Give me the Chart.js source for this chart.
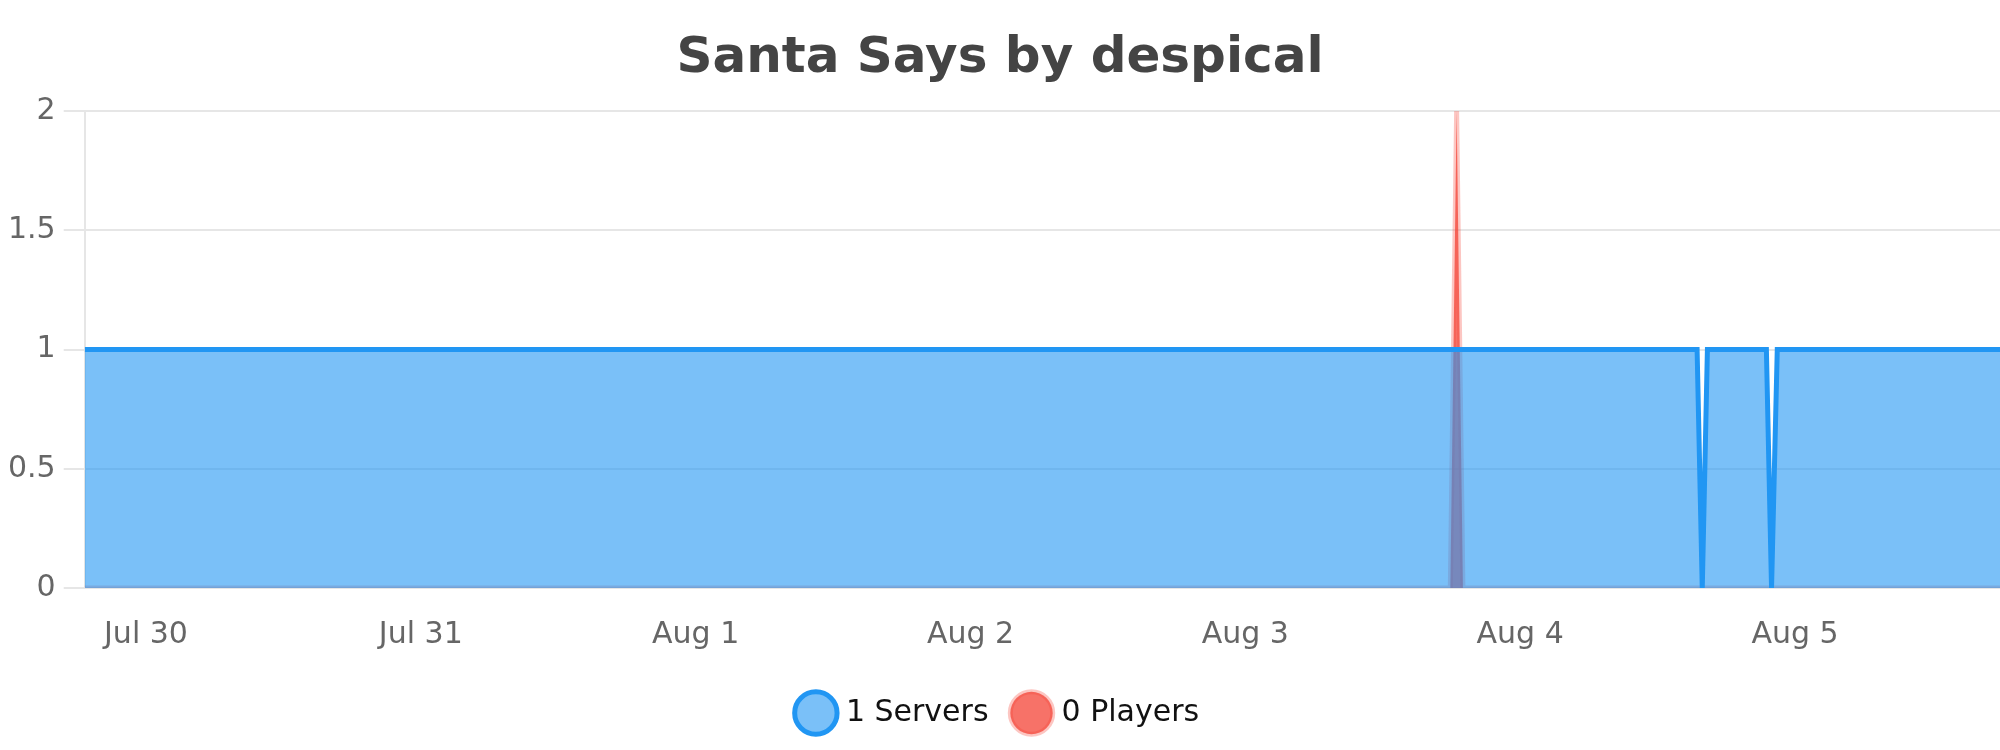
<!DOCTYPE html>
<html>
<head>
<meta charset="utf-8">
<title>Santa Says by despical</title>
<script src="https://cdn.jsdelivr.net/npm/chart.js@4.4.1/dist/chart.umd.min.js"></script>
<style>
  html, body { margin: 0; padding: 0; background: #fff; }
  #wrap { width: 2000px; height: 750px; }
</style>
</head>
<body>
<div id="wrap"><canvas id="serverChart"></canvas></div>
<script>
// hours counted from Jul 30 00:00
const rangeStart = -5.35;
const rangeEnd = 161.9;

const dayTicks = [0, 24, 48, 72, 96, 120, 144];
const dayLabels = ['Jul 30', 'Jul 31', 'Aug 1', 'Aug 2', 'Aug 3', 'Aug 4', 'Aug 5'];

const serverTimes  = [-5.35, 135.45, 135.9, 136.35, 141.5, 141.95, 142.45, 161.9];
const serverValues = [1, 1, 0, 1, 1, 0, 1, 1];

const playerTimes  = [-5.35, 113.9, 114.45, 115.0, 161.9];
const playerValues = [0, 0, 2, 0, 0];

const yTicks = [0, 0.5, 1, 1.5, 2];

function toPoints(xs, ys) {
  return xs.map((x, i) => ({ x: x, y: ys[i] }));
}

Chart.defaults.font.family = "'DejaVu Sans', sans-serif";

new Chart(document.getElementById('serverChart'), {
  type: 'line',
  data: {
    datasets: [{
      label: '1 Servers',
      data: toPoints(serverTimes, serverValues),
      borderColor: '#2196F3',
      backgroundColor: 'rgba(33,150,243,0.6)',
      borderWidth: 5,
      pointRadius: 0,
      fill: 'origin',
      tension: 0
    }, {
      label: '0 Players',
      data: toPoints(playerTimes, playerValues),
      borderColor: 'rgba(244,67,54,0.3)',
      backgroundColor: 'rgba(244,67,54,0.75)',
      borderWidth: 5,
      pointRadius: 0,
      fill: 'origin',
      tension: 0
    }]
  },
  options: {
    responsive: true,
    maintainAspectRatio: false,
    animation: false,
    devicePixelRatio: 1,
    layout: { padding: { left: 0, right: 0, top: 0, bottom: 12 } },
    plugins: {
      title: {
        display: true,
        text: 'Santa Says by despical',
        color: '#444',
        font: { size: 50, weight: 'bold' },
        padding: { top: 29, bottom: 22 }
      },
      legend: {
        position: 'bottom',
        labels: {
          usePointStyle: true,
          pointStyle: 'circle',
          color: '#111',
          font: { size: 30 },
          padding: 28
        }
      },
      tooltip: { enabled: false }
    },
    scales: {
      x: {
        type: 'linear',
        min: rangeStart,
        max: rangeEnd,
        grid: { display: false },
        border: { display: false },
        afterBuildTicks: (axis) => {
          axis.ticks = dayTicks.map(v => ({ value: v }));
        },
        afterFit: (axis) => {
          axis.height -= 4;
        },
        ticks: {
          color: '#666',
          font: { size: 30 },
          padding: 21,
          maxRotation: 0,
          autoSkip: false,
          callback: (value) => dayLabels[dayTicks.indexOf(value)]
        }
      },
      y: {
        min: 0,
        max: 2,
        afterBuildTicks: (axis) => {
          axis.ticks = yTicks.map(v => ({ value: v }));
        },
        grid: { color: '#e6e6e6', lineWidth: 2, tickLength: 21 },
        border: { color: '#e6e6e6', width: 2 },
        ticks: {
          color: '#666',
          font: { size: 30 },
          padding: 8,
          callback: (value) => String(value)
        }
      }
    }
  }
});
</script>
</body>
</html>
